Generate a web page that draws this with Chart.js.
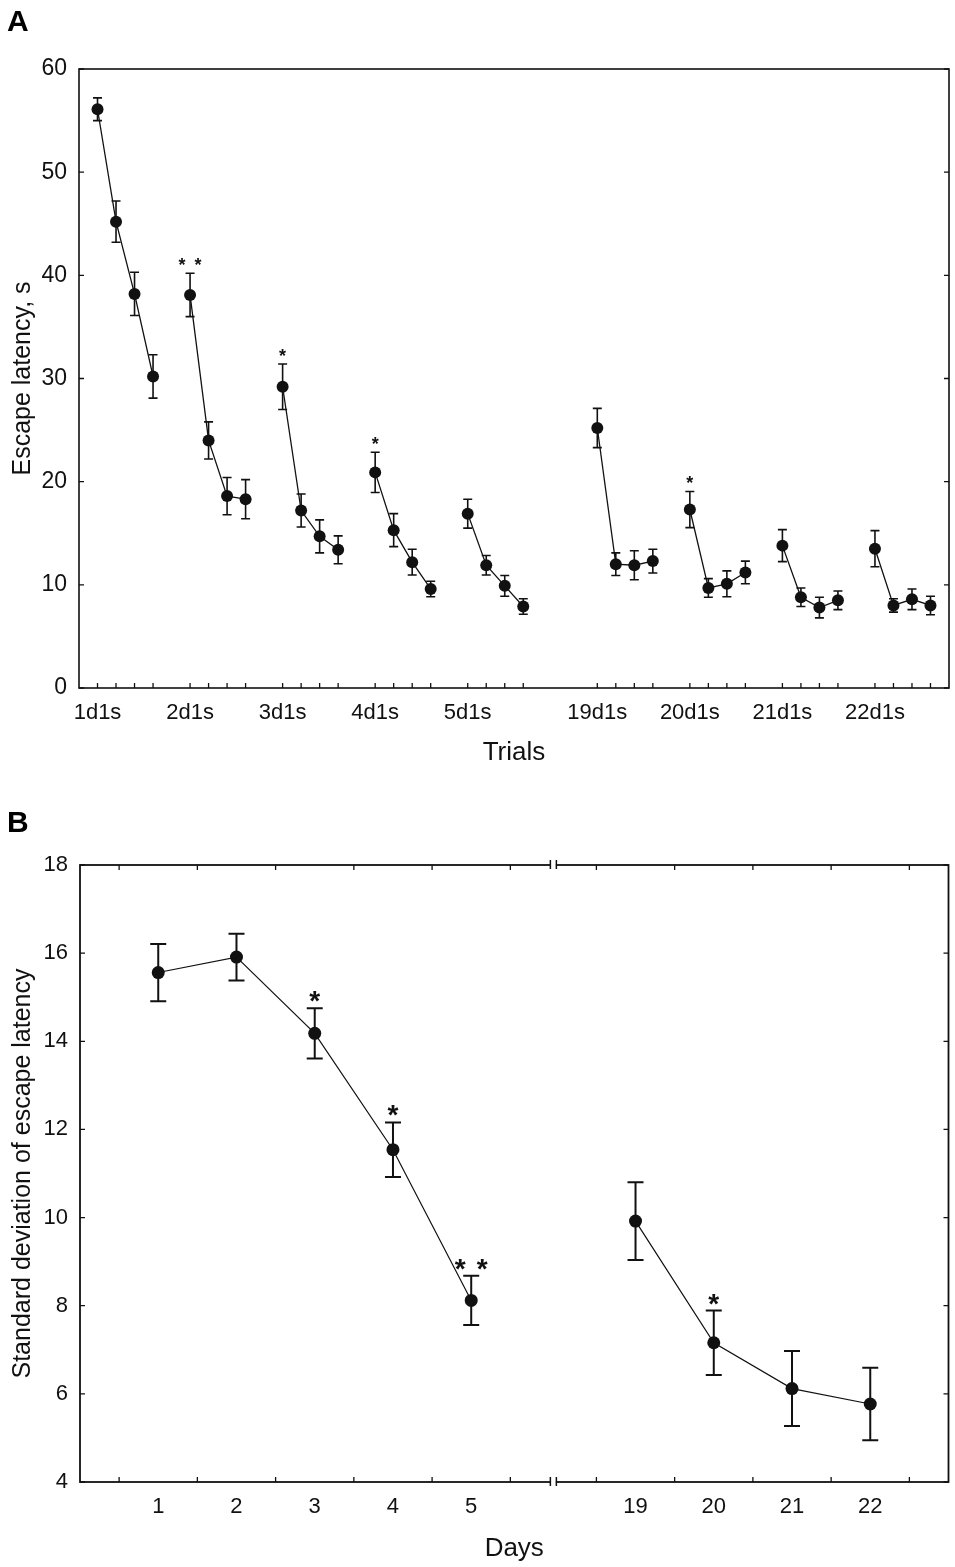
<!DOCTYPE html>
<html>
<head>
<meta charset="utf-8">
<title>Escape latency</title>
<script src="https://cdn.jsdelivr.net/npm/chart.js@4.4.1/dist/chart.umd.min.js"></script>
<style>
  html, body { margin: 0; padding: 0; background: #fff; }
  body { width: 955px; height: 1567px; position: relative; overflow: hidden; font-family: "Liberation Sans", Arial, sans-serif; }
  canvas { position: absolute; left: 0; }
  .tag { position: absolute; left: 7px; font-weight: bold; font-size: 30px; line-height: 30px; color: #000; }
</style>
</head>
<body>
<canvas id="chartA" width="955" height="790" style="top:0"></canvas>
<canvas id="chartB" width="955" height="767" style="top:800px"></canvas>
<div class="tag" style="top:6px">A</div>
<div class="tag" style="top:807px">B</div>
<script>
// panel A: escape latency, 4 trials per day
const trialDays = ['1d1s', '2d1s', '3d1s', '4d1s', '5d1s', '19d1s', '20d1s', '21d1s', '22d1s']
const latencyMean = [
    [56.1, 45.2, 38.2, 30.2],
    [38.1, 24.0, 18.6, 18.3],
    [29.2, 17.2, 14.7, 13.4],
    [20.9, 15.3, 12.2, 9.6],
    [16.9, 11.9, 9.9, 7.9],
    [25.2, 12.0, 11.9, 12.3],
    [17.3, 9.7, 10.1, 11.2],
    [13.8, 8.8, 7.8, 8.5],
    [13.5, 8.0, 8.6, 8.0]
]
const latencyErr = [
    [1.1, 2.0, 2.1, 2.1],
    [2.1, 1.8, 1.8, 1.9],
    [2.2, 1.6, 1.6, 1.35],
    [1.95, 1.6, 1.25, 0.75],
    [1.4, 0.95, 1.0, 0.75],
    [1.9, 1.1, 1.4, 1.15],
    [1.75, 0.9, 1.25, 1.1],
    [1.55, 0.9, 1.0, 0.9],
    [1.75, 0.65, 1.0, 0.9]
]
const latencyStars = ['', '**', '*', '*', '', '', '*', '', '']

// panel B: standard deviation of escape latency per day
const sdDays = ['1', '2', '3', '4', '5', '19', '20', '21', '22']
const sdMean = [15.56, 15.91, 14.18, 11.54, 8.12, 9.92, 7.16, 6.12, 5.77]
const sdErr = [0.65, 0.53, 0.57, 0.62, 0.56, 0.88, 0.73, 0.85, 0.82]
const sdStars = ['', '', '*', '*', '**', '', '*', '', '']

const FONT = '"Liberation Sans", Arial, sans-serif'
const INK = '#111'

// slot on the trials axis: one empty slot between days, three before day 19
function trialSlot(day, trial) {
    return 1 + day * 5 + (day >= 5 ? 2 : 0) + trial
}
// position on the days axis, axis is broken after day 5
function dayPos(i) {
    return i < 5 ? i + 1 : i + 2.1
}

let pointsA = []
let labelAt = {}
let slotsA = []
trialDays.forEach(function (d, g) {
    labelAt[trialSlot(g, 0)] = d
    latencyMean[g].forEach(function (m, t) {
        slotsA.push(trialSlot(g, t))
        pointsA.push({ x: trialSlot(g, t), y: m, err: latencyErr[g][t], star: t == 0 ? latencyStars[g] : '' })
    })
    pointsA.push({ x: trialSlot(g, 3) + 0.5, y: null })
})

let pointsB = []
let posB = []
let dayLabel = {}
sdDays.forEach(function (d, i) {
    posB.push(dayPos(i))
    dayLabel[dayPos(i).toFixed(2)] = d
    pointsB.push({ x: dayPos(i), y: sdMean[i], err: sdErr[i], star: sdStars[i] })
    if (i == 4) pointsB.push({ x: 6.05, y: null })
})
// small ticks half way between days
let halfB = []
posB.forEach(function (p) {
    [p - 0.5, p + 0.5].forEach(function (h) {
        if (!halfB.some(v => Math.abs(v - h) < 0.01)) halfB.push(h)
    })
})

// error bars, asterisks, frame and inward ticks
const boxPlot = {
    id: 'boxPlot',
    beforeDatasetsDraw(chart, args, o) {
        const ctx = chart.ctx
        const xs = chart.scales.x, ys = chart.scales.y
        ctx.save()
        ctx.strokeStyle = INK
        ctx.lineWidth = o.errWidth
        chart.data.datasets[0].data.forEach(function (p) {
            if (p.y == null) return
            const px = xs.getPixelForValue(p.x)
            const top = ys.getPixelForValue(p.y + p.err)
            const bot = ys.getPixelForValue(p.y - p.err)
            ctx.beginPath()
            ctx.moveTo(px, top); ctx.lineTo(px, bot)
            ctx.moveTo(px - o.cap, top); ctx.lineTo(px + o.cap, top)
            ctx.moveTo(px - o.cap, bot); ctx.lineTo(px + o.cap, bot)
            ctx.stroke()
        })
        ctx.restore()
    },
    afterDatasetsDraw(chart, args, o) {
        const ctx = chart.ctx
        const xs = chart.scales.x, ys = chart.scales.y
        const a = chart.chartArea
        ctx.save()
        ctx.fillStyle = INK
        ctx.font = o.starFont
        ctx.textAlign = 'center'
        ctx.textBaseline = 'alphabetic'
        chart.data.datasets[0].data.forEach(function (p) {
            if (!p.star) return
            const px = xs.getPixelForValue(p.x)
            const y = ys.getPixelForValue(p.y + p.err) + o.starLift
            if (p.star == '**') {
                ctx.fillText('*', px - o.starGap / 2, y)
                ctx.fillText('*', px + o.starGap / 2, y)
            } else {
                ctx.fillText('*', px, y)
            }
        })

        ctx.strokeStyle = INK
        ctx.lineWidth = o.frameWidth
        ctx.strokeRect(a.left, a.top, a.right - a.left, a.bottom - a.top)

        ctx.lineWidth = 1.3
        ctx.beginPath()
        ys.ticks.forEach(function (t) {
            const y = ys.getPixelForValue(t.value)
            ctx.moveTo(a.left, y); ctx.lineTo(a.left + o.tickLen, y)
            ctx.moveTo(a.right, y); ctx.lineTo(a.right - o.tickLen, y)
        })
        o.xTicks.forEach(function (v) {
            const x = xs.getPixelForValue(v)
            ctx.moveTo(x, a.bottom); ctx.lineTo(x, a.bottom - o.tickLen)
            if (o.topTicks) { ctx.moveTo(x, a.top); ctx.lineTo(x, a.top + o.tickLen) }
        })
        ctx.stroke()

        if (o.breakAt != null) {
            const bx = xs.getPixelForValue(o.breakAt)
            ctx.fillStyle = '#fff'
            ctx.fillRect(bx - 2.5, a.top - 3, 5, 6)
            ctx.fillRect(bx - 2.5, a.bottom - 3, 5, 6)
            ctx.lineWidth = 1.5
            ctx.beginPath();
            [a.top, a.bottom].forEach(function (y) {
                ctx.moveTo(bx - 3, y - 5); ctx.lineTo(bx - 3, y + 4)
                ctx.moveTo(bx + 3, y - 5); ctx.lineTo(bx + 3, y + 4)
            })
            ctx.stroke()
        }
        ctx.restore()
    }
}

function tickFont(size) {
    return { family: FONT, size: size }
}

let chartA = new Chart(document.getElementById('chartA'), {
    type: 'line',
    data: {
        datasets: [{
            data: pointsA,
            borderColor: INK,
            borderWidth: 1.3,
            pointRadius: 6,
            pointBackgroundColor: INK,
            pointBorderWidth: 0,
            spanGaps: false,
            tension: 0
        }]
    },
    options: {
        responsive: false,
        animation: false,
        layout: { padding: { top: 69, right: 5, left: 0, bottom: 0 } },
        plugins: {
            legend: { display: false },
            tooltip: { enabled: false },
            boxPlot: { errWidth: 1.6, cap: 4.5, starFont: 'bold 18px ' + FONT, starLift: -2, starGap: 16, frameWidth: 1.6, tickLen: 5, xTicks: slotsA, topTicks: false, breakAt: null }
        },
        scales: {
            x: {
                type: 'linear', min: 0, max: 47,
                grid: { display: false, drawTicks: false },
                border: { display: false },
                afterBuildTicks: function (s) { s.ticks = slotsA.map(v => ({ value: v })) },
                afterFit: function (s) { s.height = 102 },
                ticks: { autoSkip: false, maxRotation: 0, padding: 12, color: INK, font: tickFont(22), callback: v => labelAt[v] || '' },
                title: { display: true, text: 'Trials', color: INK, font: tickFont(26), padding: { top: 0, bottom: 22 } }
            },
            y: {
                min: 0, max: 60,
                grid: { display: false, drawTicks: false },
                border: { display: false },
                afterFit: function (s) { s.width = 79 },
                ticks: { stepSize: 10, padding: 12, color: INK, font: tickFont(23) },
                title: { display: true, text: 'Escape latency, s', color: INK, font: tickFont(25), padding: { top: 8, bottom: 0 } }
            }
        }
    },
    plugins: [boxPlot]
})

let chartB = new Chart(document.getElementById('chartB'), {
    type: 'line',
    data: {
        datasets: [{
            data: pointsB,
            borderColor: INK,
            borderWidth: 1.2,
            pointRadius: 6.5,
            pointBackgroundColor: INK,
            pointBorderWidth: 0,
            spanGaps: false,
            tension: 0
        }]
    },
    options: {
        responsive: false,
        animation: false,
        layout: { padding: { top: 65, right: 5, left: 0, bottom: 0 } },
        plugins: {
            legend: { display: false },
            tooltip: { enabled: false },
            boxPlot: { errWidth: 2, cap: 8, starFont: 'bold 28px ' + FONT, starLift: 2, starGap: 22, frameWidth: 1.8, tickLen: 5, xTicks: halfB, topTicks: true, breakAt: 6.05 }
        },
        scales: {
            x: {
                type: 'linear', min: 0, max: 11.1,
                grid: { display: false, drawTicks: false },
                border: { display: false },
                afterBuildTicks: function (s) { s.ticks = posB.map(v => ({ value: v })) },
                afterFit: function (s) { s.height = 85 },
                ticks: { autoSkip: false, maxRotation: 0, padding: 12, color: INK, font: tickFont(22), callback: v => dayLabel[v.toFixed(2)] || '' },
                title: { display: true, text: 'Days', color: INK, font: tickFont(26), padding: { top: 0, bottom: 3 } }
            },
            y: {
                min: 4, max: 18,
                grid: { display: false, drawTicks: false },
                border: { display: false },
                afterFit: function (s) { s.width = 80 },
                ticks: { stepSize: 2, padding: 12, color: INK, font: tickFont(22) },
                title: { display: true, text: 'Standard deviation of escape latency', color: INK, font: tickFont(25), padding: { top: 8, bottom: 0 } }
            }
        }
    },
    plugins: [boxPlot]
})
</script>
</body>
</html>
